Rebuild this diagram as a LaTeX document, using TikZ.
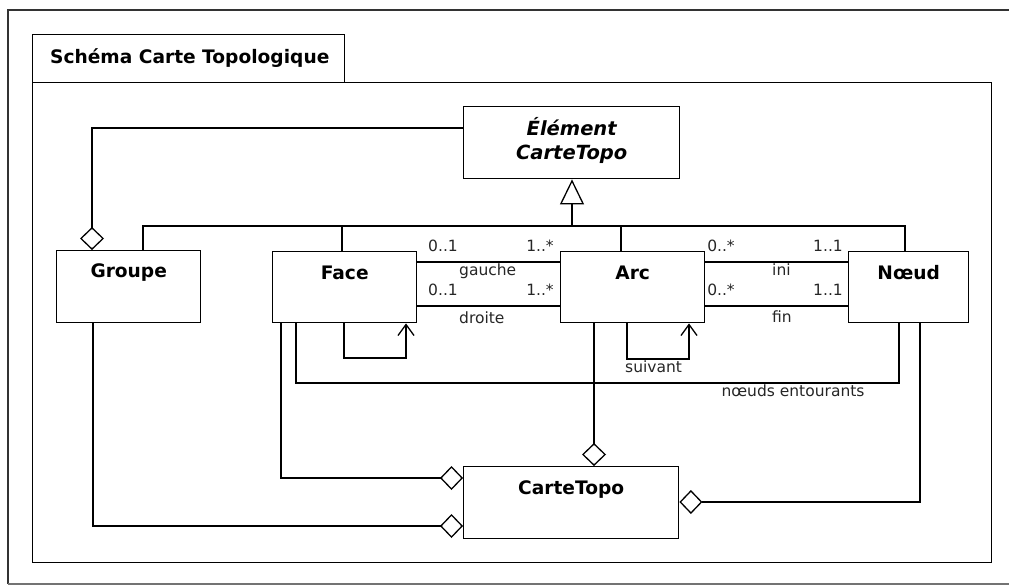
\documentclass[tikz,border=0pt]{standalone}
\usepackage{fontspec}
\setmainfont{DejaVu Sans}
\usetikzlibrary{arrows.meta,calc}
\tikzset{
  frame/.style={draw=black, line width=1.4pt},
  cls/.style={draw=black, line width=1.4pt, rectangle, inner sep=0pt, anchor=north west},
  clsname/.style={font=\fontsize{18.6}{20}\selectfont\bfseries, inner sep=0pt},
  lbl/.style={font=\fontsize{15.5}{17}\selectfont, inner sep=0pt, text=black!85},
  conn/.style={draw=black, line width=1.3pt},
  agg/.style={conn, -{Diamond[open, length=23pt, width=24pt, line width=1.3pt]}},
  gen/.style={conn, -{Triangle[open, length=25pt, width=24pt, line width=1.3pt]}},
  nav/.style={conn, -{Straight Barb[length=11pt, width=16pt, line width=1.3pt]}}
}
\begin{document}
\begin{tikzpicture}[x=1pt,y=-1pt]
\useasboundingbox (0,0) rectangle (1009,586);
% outer frame
\draw[line width=1.3pt, black!80] (1009,10) -- (8,10) -- (8,584);
\draw[line width=1.3pt, black!55] (8,584) -- (1009,584);
% package
\node[cls, minimum width=312pt, minimum height=48pt] (pkgtab) at (32,34) {};
\node[cls, minimum width=959pt, minimum height=480pt] (pkgbody) at (32,82) {};
\node[clsname, anchor=west] (title) at (50,58) {Schéma Carte Topologique};
% classes
\node[cls, minimum width=216pt, minimum height=72pt] (elem) at (463,106) {};
\node[font=\fontsize{19.5}{24}\selectfont\bfseries\itshape, align=center, inner sep=0pt] (elemT) at ($(elem.center)+(0,-2)$) {Élément\\CarteTopo};
\node[cls, minimum width=144pt, minimum height=72pt] (groupe) at (56,250) {};
\node[cls, minimum width=144pt, minimum height=71pt] (face) at (272,251) {};
\node[cls, minimum width=144pt, minimum height=71pt] (arc) at (560,251) {};
\node[cls, minimum width=120pt, minimum height=71pt] (noeud) at (848,251) {};
\node[cls, minimum width=215pt, minimum height=72pt] (carte) at (463,466) {};
\node[clsname] (groupeT) at ($(groupe.north)+(0,23)$) {Groupe};
\node[clsname] (faceT) at ($(face.north)+(0,22)$) {Face};
\node[clsname] (arcT) at ($(arc.north)+(0,22)$) {Arc};
\node[clsname] (noeudT) at ($(noeud.north)+(0,22)$) {Nœud};
\node[clsname] (carteT) at ($(carte.north)+(0,24)$) {CarteTopo};
% generalization
\coordinate (gj) at (572,226);
\draw[gen] (gj) -- (gj |- elem.south);
\draw[conn] (143,0 |- groupe.north) -- (143,226) -- (905,226) -- (905,0 |- noeud.north);
\draw[conn] (342,226) -- (342,0 |- face.north);
\draw[conn] (621,226) -- (621,0 |- arc.north);
% groupe aggregation of elements
\draw[agg] (elem.west |- 0,128) -- (92,128) -- (92,0 |- groupe.north);
% face - arc
\draw[conn] (face.east |- 0,262) -- (arc.west |- 0,262);
\draw[conn] (face.east |- 0,306) -- (arc.west |- 0,306);
\node[lbl] (l01a) at (443,246) {0..1};
\node[lbl] (l1sa) at (540,246) {1..*};
\node[lbl, anchor=west] (lg) at (459,271) {gauche};
\node[lbl] (l01b) at (443,290) {0..1};
\node[lbl] (l1sb) at (540,290) {1..*};
\node[lbl, anchor=west] (ld) at (459,318) {droite};
% arc - noeud
\draw[conn] (arc.east |- 0,262) -- (noeud.west |- 0,262);
\draw[conn] (arc.east |- 0,306) -- (noeud.west |- 0,306);
\node[lbl] (l0sa) at (721,246) {0..*};
\node[lbl] (l11a) at (828,246) {1..1};
\node[lbl, anchor=west] (li) at (772,270) {ini};
\node[lbl] (l0sb) at (721,290) {0..*};
\node[lbl] (l11b) at (828,290) {1..1};
\node[lbl, anchor=west] (lf) at (772,317) {fin};
% self loops
\draw[nav] (344,0 |- face.south) -- (344,358) -- (406,358) -- (406,0 |- face.south);
\draw[nav] (627,0 |- arc.south) -- (627,359) -- (689,359) -- (689,0 |- arc.south);
\node[lbl, anchor=west] (ls) at (625,367) {suivant};
% noeuds entourants
\draw[conn] (296,0 |- face.south) -- (296,383) -- (899,383) -- (899,0 |- noeud.south);
\node[lbl] (lne) at (793,391) {nœuds entourants};
% aggregations into CarteTopo
\draw[agg] (281,0 |- face.south) -- (281,478) -- (carte.west |- 0,478);
\draw[agg] (93,0 |- groupe.south) -- (93,526) -- (carte.west |- 0,526);
\draw[agg] (594,0 |- arc.south) -- (594,0 |- carte.north);
\draw[agg] (920,0 |- noeud.south) -- (920,502) -- (carte.east |- 0,502);
\end{tikzpicture}
\end{document}
